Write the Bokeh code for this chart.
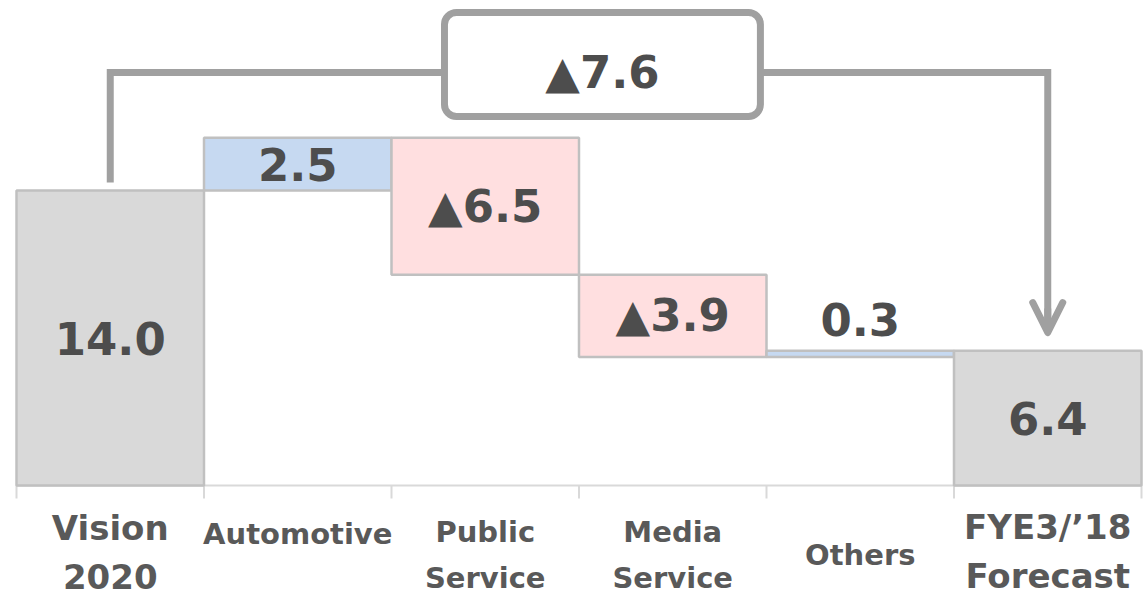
from bokeh.plotting import figure
from bokeh.models import Range1d, ColumnDataSource, Arrow, OpenHead
from bokeh.core.properties import value
from bokeh.embed import file_html
from bokeh.resources import INLINE

# ---------------- data ----------------
categories = ["Vision\n2020", "Automotive", "Public\nService", "Media\nService", "Others", "FYE3/’18\nForecast"]
kinds = ["total", "delta", "delta", "delta", "delta", "total"]
values = [14.0, 2.5, -6.5, -3.9, 0.3, 6.4]

# ---------------- style ----------------
W, H = 1144, 600
LEFT_PX, CAT_PX = 16, 187.5
BASE_PX, PX_PER_UNIT = 485, 21.07
FONT = "DejaVu Sans"
VAL_COLOR = "#4d4d4d"
LBL_COLOR = "#595959"
GREY_LINE = "#a0a0a0"
FILL = {"total": "#d9d9d9", "pos": "#c6d9f1", "neg": "#ffdfe0"}
EDGE = "#c0c0c0"
lbl_first_offset = [42, 48, 46, 46, 69, 41]
lbl_size = [34, 29, 29, 29, 29, 34]
lbl_gap = {34: 49, 29: 46}

# ---------------- derived geometry ----------------
n = len(categories)
bottoms, tops, fills, texts = [], [], [], []
running = 0.0
for k, v in zip(kinds, values):
    if k == "total":
        b, t = 0.0, v
        running = v
        fills.append(FILL["total"])
    else:
        b, t = min(running, running + v), max(running, running + v)
        running += v
        fills.append(FILL["pos"] if v >= 0 else FILL["neg"])
    bottoms.append(b)
    tops.append(t)
    texts.append(("▲" if v < 0 else "") + f"{abs(v):.1f}")

lefts = [i for i in range(n)]
rights = [i + 1 for i in range(n)]
centers = [i + 0.5 for i in range(n)]

val_y, val_off = [], []
for b, t in zip(bottoms, tops):
    if (t - b) < 1.0:
        val_y.append(t)
        val_off.append(-31)
    else:
        val_y.append((b + t) / 2)
        val_off.append(0)

x_range = Range1d(-LEFT_PX / CAT_PX, (W - LEFT_PX) / CAT_PX)
y_range = Range1d(-(H - BASE_PX) / PX_PER_UNIT, BASE_PX / PX_PER_UNIT)

p = figure(width=W, height=H, min_border=0, toolbar_location=None, output_backend="svg",
           x_range=x_range, y_range=y_range, x_axis_location=None, y_axis_location=None)
p.grid.visible = False
p.outline_line_color = None
p.background_fill_color = "white"

# baseline and ticks
tick_len = 13 / PX_PER_UNIT
p.segment(x0=[0], y0=[0], x1=[n], y1=[0], line_color="#d9d9d9", line_width=2)
p.segment(x0=list(range(n + 1)), y0=[0] * (n + 1), x1=list(range(n + 1)), y1=[-tick_len] * (n + 1),
          line_color="#d9d9d9", line_width=2)

# bars
src = ColumnDataSource(dict(left=lefts, right=rights, bottom=bottoms, top=tops, fill=fills,
                            cx=centers, vy=val_y, voff=val_off, txt=texts))
p.quad(left="left", right="right", bottom="bottom", top="top", source=src,
       fill_color="fill", line_color=EDGE, line_width=2.5)

p.text(x="cx", y="vy", text="txt", y_offset="voff", source=src,
       text_font=value(FONT), text_font_style="bold", text_font_size="45px",
       text_color=VAL_COLOR, text_align="center", text_baseline="middle")

# category labels
lx, lt, lo, ls = [], [], [], []
for i, cat in enumerate(categories):
    for j, line in enumerate(cat.split("\n")):
        lx.append(centers[i])
        lt.append(line)
        lo.append(lbl_first_offset[i] + j * lbl_gap[lbl_size[i]])
        ls.append(f"{lbl_size[i]}px")
lsrc = ColumnDataSource(dict(x=lx, y=[0] * len(lx), t=lt, o=lo, s=ls))
p.text(x="x", y="y", text="t", y_offset="o", text_font_size="s", source=lsrc,
       text_font=value(FONT), text_font_style="bold", text_color=LBL_COLOR,
       text_align="center", text_baseline="middle")

# bracket with total change
total_change = values[-1] - values[0]
BRACKET_Y = 19.6
x_start, x_end = centers[0], centers[-1]
p.line(x=[x_start, x_start, x_end, x_end], y=[values[0] + 0.38, BRACKET_Y, BRACKET_Y, values[-1] + 1.3],
       line_color=GREY_LINE, line_width=7, line_join="miter")
p.add_layout(Arrow(x_start=x_end, y_start=values[-1] + 2.0, x_end=x_end, y_end=values[-1] + 0.86,
                   line_color=GREY_LINE, line_width=7,
                   end=OpenHead(size=30, line_color=GREY_LINE, line_width=7,
                                line_cap="round", line_join="round")))

BOX_X, BOX_W = 3.125, 1.685
BOX_B, BOX_T = 17.51, 22.45
p.quad(left=[BOX_X - BOX_W / 2], right=[BOX_X + BOX_W / 2], bottom=[BOX_B], top=[BOX_T],
       fill_color="white", line_color=GREY_LINE, line_width=7, border_radius=12)
p.text(x=[BOX_X], y=[BRACKET_Y], text=[("▲" if total_change < 0 else "") + f"{abs(total_change):.1f}"],
       text_font=value(FONT), text_font_style="bold", text_font_size="45px",
       text_color=VAL_COLOR, text_align="center", text_baseline="middle")

open("out.html", "w").write(file_html(p, INLINE))
